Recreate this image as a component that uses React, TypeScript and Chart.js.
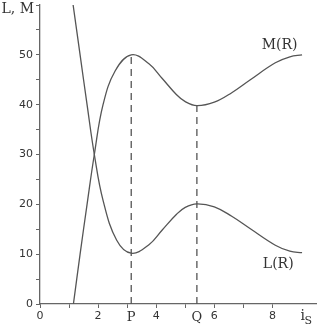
import React, { useEffect, useRef } from "react";
import { Chart, registerables } from "chart.js";

Chart.register(...registerables);

const P = 3.14;
const Q = 5.4;

const mX = [1.15, 1.38, 1.62, 1.87, 2.17, 2.59, 3.14, 3.75, 4.2, 4.7, 5.0, 5.4, 6.0, 6.6, 7.24, 8.1, 8.6, 9.02];
const mY = [0, 10, 20, 30, 40, 46.8, 50, 48.2, 45.3, 42, 40.6, 39.8, 40.5, 42.4, 45, 48.4, 49.6, 50];

const lX = [1.14, 1.38, 1.62, 1.87, 2.17, 2.64, 3.14, 3.75, 4.2, 4.7, 5.0, 5.4, 6.0, 6.6, 7.24, 8.1, 8.6, 9.02];
const lY = [60, 50, 40, 30, 20.8, 12.8, 10.2, 11.9, 14.8, 18, 19.4, 20.1, 19.5, 17.6, 15.1, 11.8, 10.6, 10.3];

const pDashX = [P, P];
const pDashY = [0, 50];
const qDashX = [Q, Q];
const qDashY = [0, 39.8];

const xTicks = [0, 1, 2, 3, P, 4, 5, Q, 6, 7, 8];
const xLabeled = [0, 2, 4, 6, 8];
const yTicks = [0, 5, 10, 15, 20, 25, 30, 35, 40, 45, 50, 55, 60];

const curveLabels = [
  { text: "M(R)", x: 8.25, y: 52 },
  { text: "L(R)", x: 8.2, y: 8.0 },
];
const yAxisTitle = "L, M";

const LINE = "#555555";
const AXIS = "#666666";
const TEXT = "#333333";
const SERIF = '"DejaVu Serif"';
const SANS = '"DejaVu Sans"';

const zip = (xs: number[], ys: number[]) => xs.map((x, i) => ({ x, y: ys[i] }));

const labelPlugin = {
  id: "labels",
  afterDraw(chart: any) {
    const { ctx } = chart;
    const xs = chart.scales.x;
    const ys = chart.scales.y;
    ctx.save();
    ctx.fillStyle = TEXT;
    ctx.font = `14px ${SERIF}`;
    ctx.textAlign = "center";
    ctx.textBaseline = "middle";
    curveLabels.forEach((l) => {
      ctx.fillText(l.text, xs.getPixelForValue(l.x), ys.getPixelForValue(l.y));
    });
    // y axis title at top-left
    ctx.textAlign = "right";
    ctx.fillText(yAxisTitle, xs.left - 6, ys.top + 4);
    // i_S axis label
    const ix = xs.getPixelForValue(9.0);
    const iy = ys.bottom + 12;
    ctx.textAlign = "left";
    ctx.font = `14px ${SERIF}`;
    ctx.fillText("i", ix - 1, iy);
    ctx.font = `11px ${SERIF}`;
    ctx.fillText("S", ix + 3, iy + 5);
    ctx.restore();
  },
};

export default function App() {
  const ref = useRef<HTMLCanvasElement | null>(null);
  useEffect(() => {
    document.body.style.margin = "0";
    const canvas = ref.current;
    if (!canvas) return;
    const lineDs = (d: any[]) => ({
      data: d,
      borderColor: LINE,
      borderWidth: 1.3,
      pointRadius: 0,
      tension: 0.4,
      fill: false,
    });
    const chart = new Chart(canvas, {
      type: "line",
      data: {
        datasets: [
          lineDs(zip(mX, mY)),
          lineDs(zip(lX, lY)),
          { ...lineDs(zip(pDashX, pDashY)), tension: 0, borderDash: [7, 5] },
          { ...lineDs(zip(qDashX, qDashY)), tension: 0, borderDash: [7, 5] },
        ],
      } as any,
      options: {
        animation: false,
        responsive: false,
        layout: { padding: { top: 5, right: 3, left: 0, bottom: 0 } },
        plugins: { legend: { display: false }, tooltip: { enabled: false } },
        scales: {
          x: {
            type: "linear",
            min: 0,
            max: 9.5,
            border: { display: true, color: AXIS, width: 1.3 },
            grid: {
              drawOnChartArea: false,
              drawTicks: true,
              tickLength: 4,
              tickColor: (c: any) =>
                c.tick && (c.tick.value === P || c.tick.value === Q) ? "rgba(0,0,0,0)" : AXIS,
            },
            afterBuildTicks: (s: any) => {
              s.ticks = xTicks.map((v) => ({ value: v }));
            },
            afterFit: (s: any) => {
              s.height = 23;
              s.paddingLeft = 0;
              s.paddingRight = 0;
            },
            ticks: {
              autoSkip: false,
              maxRotation: 0,
              padding: 2,
              color: TEXT,
              font: (c: any) =>
                c.tick && (c.tick.value === P || c.tick.value === Q)
                  ? { family: SERIF, size: 13 }
                  : { family: SANS, size: 11 },
              callback: (v: any) => {
                if (v === P) return "P";
                if (v === Q) return "Q";
                return xLabeled.includes(v) ? String(v) : "";
              },
            },
          },
          y: {
            type: "linear",
            min: 0,
            max: 60,
            border: { display: true, color: AXIS, width: 1.3 },
            grid: {
              drawOnChartArea: false,
              drawTicks: true,
              tickLength: 4,
              tickColor: AXIS,
            },
            afterBuildTicks: (s: any) => {
              s.ticks = yTicks.map((v) => ({ value: v }));
            },
            afterFit: (s: any) => {
              s.width = 40;
              s.paddingTop = 0;
              s.paddingBottom = 0;
            },
            ticks: {
              autoSkip: false,
              padding: 3,
              color: TEXT,
              font: { family: SANS, size: 11 },
              callback: (v: any) => (v % 10 === 0 && v !== 60 ? String(v) : ""),
            },
          },
        },
      } as any,
      plugins: [labelPlugin],
    });
    return () => chart.destroy();
  }, []);
  return (
    <div style={{ width: 319, height: 327 }}>
      <canvas ref={ref} width={319} height={327} style={{ display: "block" }} />
    </div>
  );
}
